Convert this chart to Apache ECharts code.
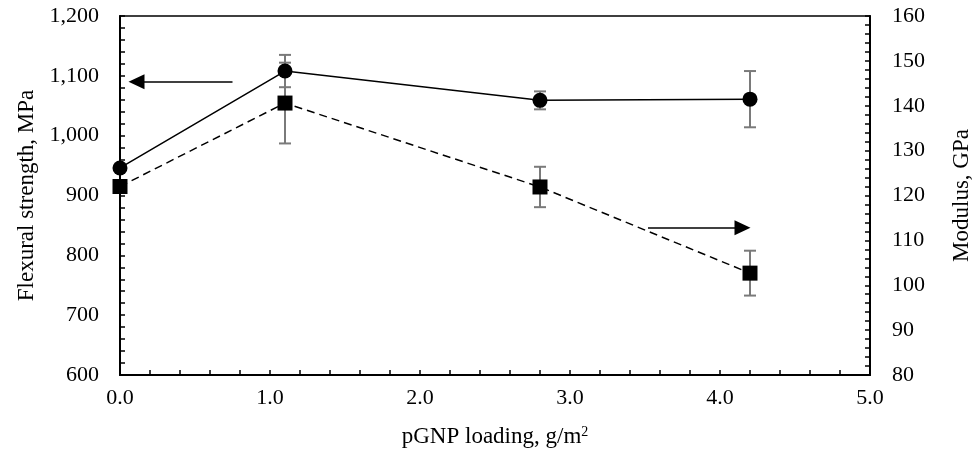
<!DOCTYPE html>
<html>
<head>
<meta charset="utf-8">
<script src="https://cdn.jsdelivr.net/npm/echarts@6/dist/echarts.min.js"></script>
<style>
  html, body { margin: 0; padding: 0; background: #fff; }
  #chart { width: 978px; height: 457px; }
</style>
</head>
<body>
<div id="chart"></div>
<script>
// pGNP loading, g/m2
var loading = [0.0, 1.1, 2.8, 4.2];
// flexural strength, MPa (circles, left axis)
var strength = [946, 1108, 1059, 1061];
var strengthErr = [0, 27, 15, 47];
// modulus, GPa (squares, right axis)
var modulus = [122, 140.6, 121.9, 102.7];
var modulusErr = [0, 9, 4.5, 5];

var fontFam = '"Liberation Serif", "Times New Roman", serif';

function pairs(xs, ys) {
    var out = [];
    for (var i = 0; i < xs.length; i++) out.push([xs[i], ys[i]]);
    return out;
}
function errRows(xs, ys, es) {
    var out = [];
    for (var i = 0; i < xs.length; i++) {
        if (es[i] > 0) out.push([xs[i], ys[i] - es[i], ys[i] + es[i]]);
    }
    return out;
}

// vertical error bar with caps
var errBar = function (params, api) {
    var lo = api.coord([api.value(0), api.value(1)]);
    var hi = api.coord([api.value(0), api.value(2)]);
    var w = 6;
    var st = { stroke: '#7a7a7a', lineWidth: 2 };
    return {
        type: 'group',
        children: [
            { type: 'line', shape: { x1: lo[0], y1: lo[1], x2: hi[0], y2: hi[1] }, style: st },
            { type: 'line', shape: { x1: lo[0] - w, y1: lo[1], x2: lo[0] + w, y2: lo[1] }, style: st },
            { type: 'line', shape: { x1: hi[0] - w, y1: hi[1], x2: hi[0] + w, y2: hi[1] }, style: st }
        ]
    };
};

var axisLbl = { color: '#000', fontFamily: fontFam, fontSize: 22 };
var nameTxt = { color: '#000', fontFamily: fontFam, fontSize: 23 };

var option = {
    animation: false,
    backgroundColor: '#fff',
    grid: {
        left: 120, right: 108, top: 16, bottom: 82,
        outerBoundsMode: 'none',
        show: true, borderColor: '#000', borderWidth: 1.5
    },
    xAxis: {
        type: 'value', min: 0, max: 5, interval: 1,
        name: 'pGNP loading, g/m{sup|2}',
        nameLocation: 'middle', nameGap: 50,
        nameTextStyle: {
            color: '#000', fontFamily: fontFam, fontSize: 23,
            rich: { sup: { fontFamily: fontFam, fontSize: 14, verticalAlign: 'top', padding: [0, 0, 10, 0], color: '#000' } }
        },
        axisLine: { lineStyle: { color: '#000', width: 2 } },
        axisTick: { inside: true, length: 5, lineStyle: { color: '#000', width: 1.5 } },
        minorTick: { show: true, splitNumber: 5, length: 5, lineStyle: { color: '#000', width: 1.5 } },
        splitLine: { show: false },
        axisLabel: Object.assign({ margin: 12, formatter: function (v) { return v.toFixed(1); } }, axisLbl)
    },
    yAxis: [{
        type: 'value', min: 600, max: 1200, interval: 100, position: 'left',
        name: 'Flexural strength, MPa',
        nameLocation: 'middle', nameGap: 76, nameTextStyle: nameTxt,
        axisLine: { show: true, lineStyle: { color: '#000', width: 2 } },
        axisTick: { show: true, inside: true, length: 5, lineStyle: { color: '#000', width: 1.5 } },
        minorTick: { show: true, splitNumber: 5, length: 5, lineStyle: { color: '#000', width: 1.5 } },
        splitLine: { show: false },
        axisLabel: Object.assign({ margin: 21, formatter: function (v) { return v.toLocaleString('en-US'); } }, axisLbl)
    }, {
        type: 'value', min: 80, max: 160, interval: 10, position: 'right',
        name: 'Modulus, GPa',
        nameLocation: 'middle', nameGap: 80, nameTextStyle: nameTxt,
        axisLine: { show: true, lineStyle: { color: '#000', width: 2 } },
        axisTick: { show: true, inside: true, length: 5, lineStyle: { color: '#000', width: 1.5 } },
        minorTick: { show: true, splitNumber: 5, length: 5, lineStyle: { color: '#000', width: 1.5 } },
        splitLine: { show: false },
        axisLabel: Object.assign({ margin: 22 }, axisLbl)
    }],
    series: [{
        type: 'custom', name: 'strength err', yAxisIndex: 0, z: 1,
        renderItem: errBar, data: errRows(loading, strength, strengthErr)
    }, {
        type: 'custom', name: 'modulus err', yAxisIndex: 1, z: 1,
        renderItem: errBar, data: errRows(loading, modulus, modulusErr)
    }, {
        type: 'line', name: 'Flexural strength', yAxisIndex: 0, z: 3,
        data: pairs(loading, strength),
        symbol: 'circle', symbolSize: 15,
        itemStyle: { color: '#000' },
        lineStyle: { color: '#000', width: 1.5 },
        markLine: {
            silent: true, symbol: ['none', 'triangle'], symbolSize: [15, 16],
            label: { show: false },
            lineStyle: { color: '#000', width: 1.5, type: 'solid' },
            data: [[{ coord: [0.75, 1090] }, { coord: [0.11, 1090] }]]
        }
    }, {
        type: 'line', name: 'Modulus', yAxisIndex: 1, z: 3,
        data: pairs(loading, modulus),
        symbol: 'rect', symbolSize: 15,
        itemStyle: { color: '#000' },
        lineStyle: { color: '#000', width: 1.5, type: [8, 5] },
        markLine: {
            silent: true, symbol: ['none', 'triangle'], symbolSize: [15, 16],
            label: { show: false },
            lineStyle: { color: '#000', width: 1.5, type: 'solid' },
            data: [[{ coord: [3.52, 112.8] }, { coord: [4.15, 112.8] }]]
        }
    }]
};

var chart = echarts.init(document.getElementById('chart'));
chart.setOption(option);
</script>
</body>
</html>
